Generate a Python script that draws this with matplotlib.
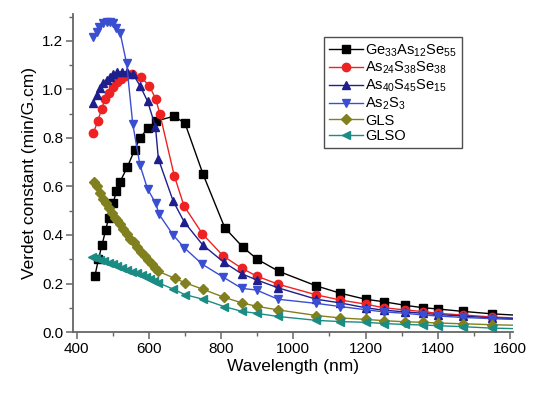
import matplotlib
matplotlib.use('Agg')
import matplotlib.pyplot as plt
from matplotlib.ticker import MultipleLocator

plt.rcParams['font.family'] = ['Liberation Sans', 'DejaVu Sans']
plt.rcParams['mathtext.fontset'] = 'custom'
plt.rcParams['mathtext.rm'] = 'Liberation Sans'
plt.rcParams['mathtext.it'] = 'Liberation Sans:italic'

# wavelengths (nm) and Verdet constants (min/G.cm)
wl_ge = [450, 460, 470, 480, 488, 500, 510, 520, 540, 560, 575, 597, 620, 670, 700, 750,
         810, 860, 900, 960, 1064, 1130, 1200, 1250, 1310, 1360, 1400, 1470, 1550, 1610]
v_ge = [0.23, 0.30, 0.36, 0.42, 0.47, 0.53, 0.58, 0.62, 0.68, 0.75, 0.80, 0.84, 0.87, 0.89, 0.86, 0.65,
        0.43, 0.35, 0.30, 0.25, 0.19, 0.16, 0.135, 0.125, 0.11, 0.10, 0.095, 0.085, 0.075, 0.07]

wl_red = [446, 458, 469, 478, 490, 501, 512, 522, 533, 552, 578, 601, 619, 630, 670, 697, 748,
          806, 857, 898, 958, 1064, 1130, 1200, 1250, 1310, 1360, 1400, 1470, 1550, 1610]
v_red = [0.82, 0.87, 0.92, 0.96, 0.985, 1.01, 1.03, 1.045, 1.055, 1.065, 1.05, 1.015, 0.96, 0.90, 0.645, 0.52, 0.405,
         0.313, 0.263, 0.231, 0.197, 0.153, 0.132, 0.115, 0.10, 0.091, 0.084, 0.077, 0.070, 0.062, 0.058]

wl_nv = [446, 455, 464, 473, 483, 492, 501, 512, 524, 540, 556, 575, 596, 618, 626, 667, 698, 749,
         807, 857, 898, 958, 1064, 1130, 1200, 1250, 1310, 1360, 1400, 1470, 1550, 1610]
v_nv = [0.943, 0.977, 1.005, 1.026, 1.04, 1.053, 1.064, 1.071, 1.073, 1.072, 1.062, 1.016, 0.952, 0.847, 0.714, 0.54, 0.453, 0.359,
        0.288, 0.24, 0.215, 0.182, 0.135, 0.12, 0.10, 0.09, 0.083, 0.077, 0.072, 0.066, 0.058, 0.055]

wl_bl = [446, 455, 462, 472, 483, 492, 501, 510, 520, 538, 555, 575, 596, 619, 628, 667, 698, 748,
         806, 857, 898, 958, 1064, 1130, 1200, 1250, 1310, 1360, 1400, 1470, 1550, 1610]
v_bl = [1.218, 1.238, 1.259, 1.273, 1.28, 1.28, 1.273, 1.255, 1.234, 1.108, 0.858, 0.689, 0.59, 0.53, 0.485, 0.40, 0.347, 0.279,
        0.226, 0.18, 0.173, 0.135, 0.118, 0.105, 0.092, 0.083, 0.077, 0.07, 0.066, 0.06, 0.055, 0.052]

wl_gls = [448, 456, 464, 472, 480, 488, 497, 505, 512, 520, 529, 538, 548, 559, 568, 578, 588, 598, 608, 617, 626,
          672, 700, 750, 808, 858, 898, 958, 1064, 1130, 1200, 1250, 1310, 1360, 1400, 1470, 1550, 1610]
v_gls = [0.62, 0.60, 0.575, 0.55, 0.53, 0.51, 0.49, 0.47, 0.46, 0.445, 0.425, 0.405, 0.385, 0.37, 0.35, 0.33, 0.315, 0.297, 0.28, 0.263, 0.25,
         0.221, 0.203, 0.176, 0.143, 0.12, 0.106, 0.091, 0.068, 0.058, 0.052, 0.047, 0.042, 0.04, 0.037, 0.034, 0.03, 0.028]

wl_glso = [441, 452, 464, 476, 488, 500, 512, 524, 538, 552, 566, 580, 592, 603, 615, 626,
           667, 700, 750, 808, 858, 898, 958, 1064, 1130, 1200, 1250, 1310, 1360, 1400, 1470, 1550, 1610]
v_glso = [0.31, 0.305, 0.298, 0.292, 0.285, 0.279, 0.272, 0.265, 0.257, 0.249, 0.242, 0.235, 0.226, 0.217, 0.21, 0.203,
          0.177, 0.154, 0.135, 0.105, 0.085, 0.077, 0.064, 0.048, 0.043, 0.04, 0.035, 0.031, 0.029, 0.026, 0.022, 0.016, 0.014]

series = [
    (wl_ge, v_ge, r'Ge$_{33}$As$_{12}$Se$_{55}$', '#000000', 's'),
    (wl_red, v_red, r'As$_{24}$S$_{38}$Se$_{38}$', '#ee2222', 'o'),
    (wl_nv, v_nv, r'As$_{40}$S$_{45}$Se$_{15}$', '#1e1e8c', '^'),
    (wl_bl, v_bl, r'As$_2$S$_3$', '#3a4ed2', 'v'),
    (wl_gls, v_gls, 'GLS', '#80801e', 'D'),
    (wl_glso, v_glso, 'GLSO', '#1a8c84', '<'),
]

fig = plt.figure(figsize=(5.49, 3.96), dpi=100)
ax = fig.add_axes([0.1333, 0.1616, 0.802, 0.8023])

for wl, v, lab, col, mk in series:
    n = len(wl)
    ms = 5.5 if mk == 'D' else 6
    ax.plot(wl, v, color=col, lw=1.0, marker=mk, ms=ms, mec=col, mfc=col,
            markevery=list(range(n - 1)), label=lab)

ax.set_xlim(390, 1610)
ax.set_ylim(0, 1.31)
ax.xaxis.set_minor_locator(MultipleLocator(100))
ax.yaxis.set_major_locator(MultipleLocator(0.2))
ax.yaxis.set_minor_locator(MultipleLocator(0.1))
ax.yaxis.set_major_formatter(matplotlib.ticker.FormatStrFormatter('%.1f'))
ax.set_xticks([400, 600, 800, 1000, 1200, 1400, 1600])

for s in ['top', 'right']:
    ax.spines[s].set_visible(False)
for s in ['left', 'bottom']:
    ax.spines[s].set_color('#666666')
    ax.spines[s].set_linewidth(1.3)
ax.tick_params(which='major', direction='out', length=5, width=1.1, color='#666666', labelsize=11, pad=2)
ax.tick_params(which='minor', direction='out', length=3, width=1.0, color='#666666')

ax.set_xlabel('Wavelength (nm)', fontsize=12.5, labelpad=2)
ax.set_ylabel('Verdet constant (min/G.cm)', fontsize=12.5, labelpad=4)

leg = ax.legend(loc='upper left', bbox_to_anchor=(0.5695, 0.9285), fontsize=10.5, frameon=True,
                fancybox=False, edgecolor='#222222', handlelength=2.3, handletextpad=0.2,
                borderpad=0.35, labelspacing=0.1, borderaxespad=0)
leg.get_frame().set_linewidth(1.0)

fig.savefig('out.png', dpi=100)
